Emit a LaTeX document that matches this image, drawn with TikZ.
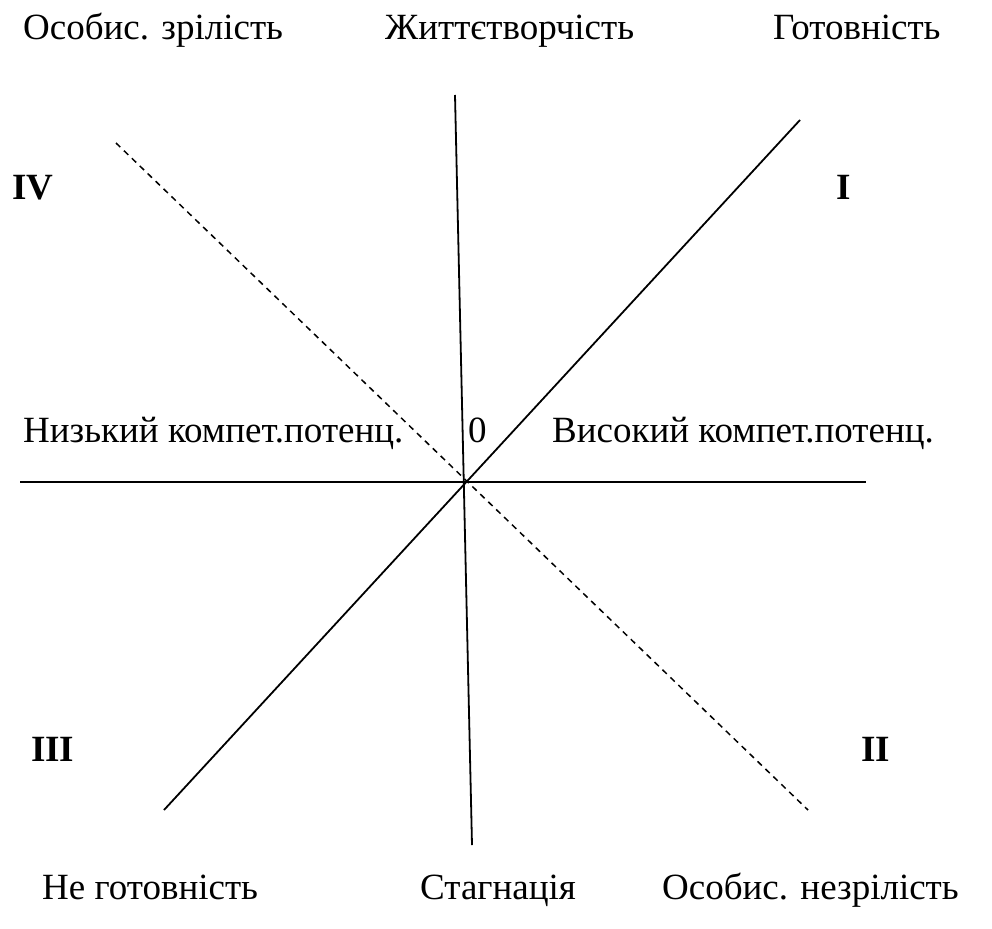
\documentclass[tikz,border=0pt]{standalone}
\usepackage{fontspec}
\setmainfont{Liberation Serif}
\usetikzlibrary{positioning}

\tikzset{
  axisline/.style={black, line width=1.8pt},
  dashline/.style={black, line width=1.5pt, dash pattern=on 6pt off 5pt},
  label/.style={font=\fontsize{37}{42}\selectfont, inner sep=0pt, anchor=base west},
  quarter/.style={font=\fontsize{37}{42}\selectfont\bfseries, inner sep=0pt, anchor=base west},
}

\begin{document}
\begin{tikzpicture}[x=1pt,y=-1pt]

    \useasboundingbox (0,0) rectangle (992,928);

    % end points of the lines
    \coordinate (hL) at (20,482);
    \coordinate (hR) at (866,482);
    \coordinate (vT) at (455,95);
    \coordinate (vB) at (472,845);
    \coordinate (dA) at (164,810);
    \coordinate (dB) at (800,120);
    \coordinate (eA) at (116,143);
    \coordinate (eB) at (808,810);

    % axes
    \draw[axisline] (hL) -- (hR);
    \draw[axisline] (vT) -- (vB);
    \draw[axisline] (dA) -- (dB);
    \draw[dashline] (eA) -- (eB);

    % top labels
    \node[label] (osZr) at (23,40) {Особис. зрілість};
    \node[label] (zhyt) at (385,40) {Життєтворчість};
    \node[label] (got) at (773,40) {Готовність};

    % quarters
    \node[quarter] (qIV) at (12,199) {IV};
    \node[quarter] (qI) at (836,199) {I};
    \node[quarter] (qIII) at (31,761) {III};
    \node[quarter] (qII) at (861,761) {II};

    % middle labels
    \node[label] (nyz) at (23,442) {Низький компет.потенц.};
    \node[label] (zero) at (468,442) {0};
    \node[label] (vys) at (552,442) {Високий компет.потенц.};

    % bottom labels
    \node[label] (nego) at (42,899) {Не готовність};
    \node[label] (stag) at (420,899) {Стагнація};
    \node[label] (osNe) at (662,899) {Особис. незрілість};

\end{tikzpicture}
\end{document}
